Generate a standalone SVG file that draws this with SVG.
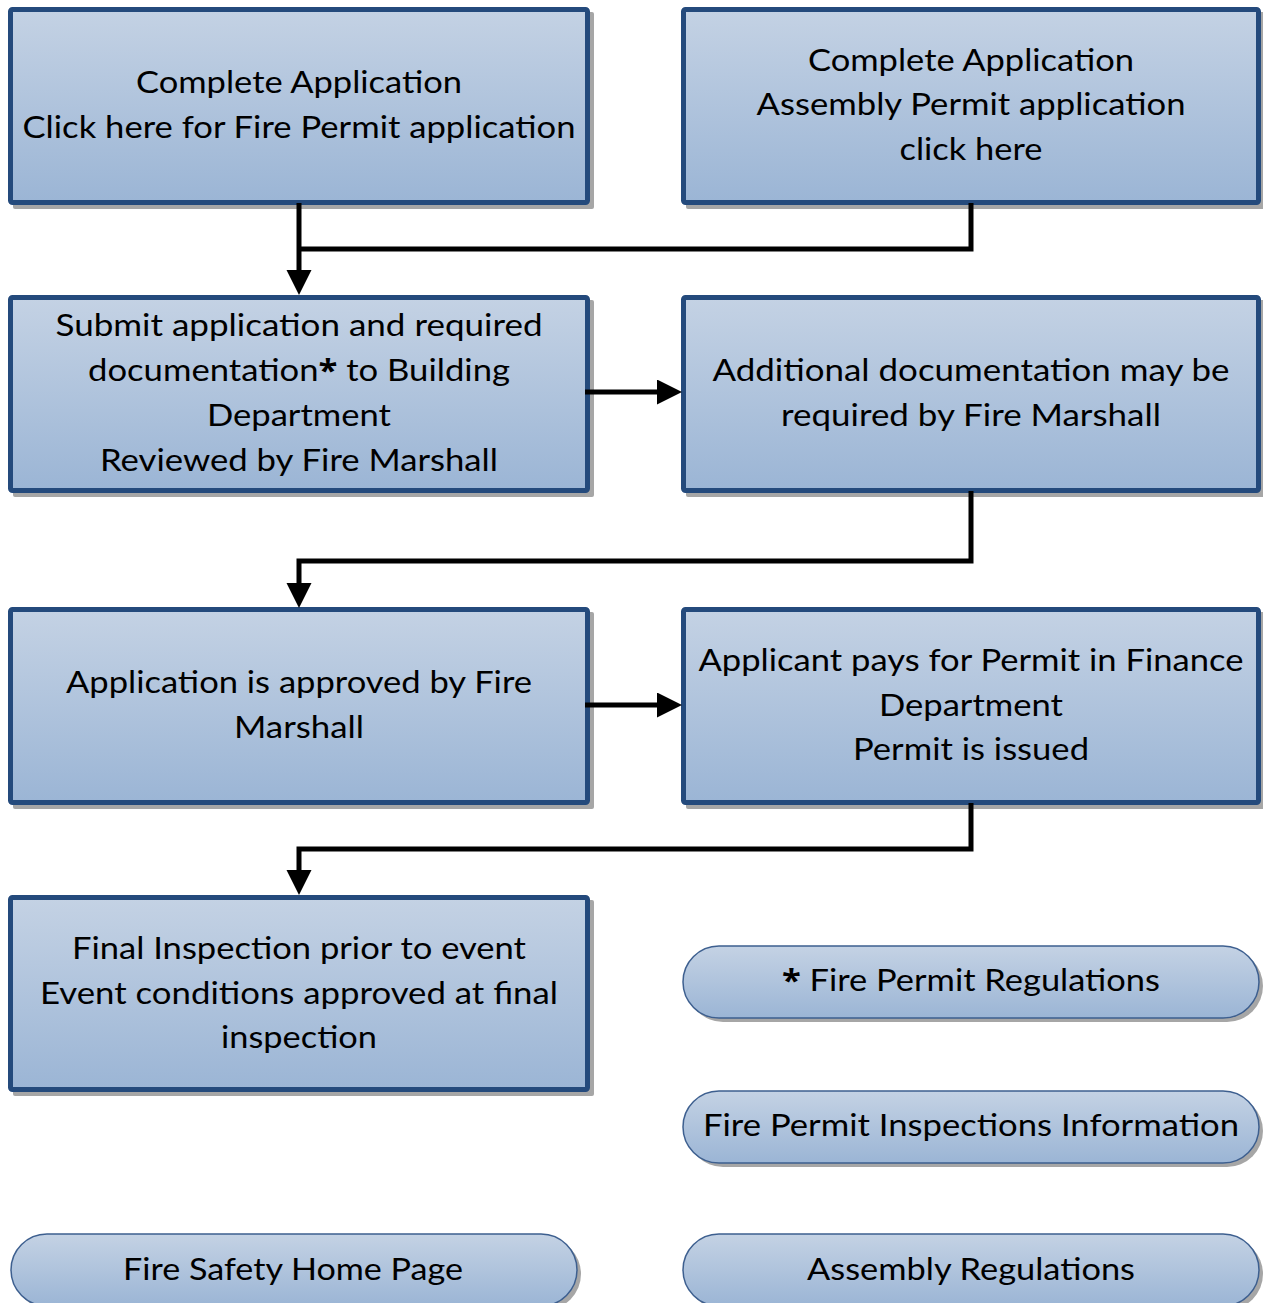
<svg xmlns="http://www.w3.org/2000/svg" width="1263" height="1303" viewBox="0 0 1263 1303">
<defs>
<linearGradient id="g" x1="0" y1="0" x2="0" y2="1">
<stop offset="0" stop-color="#C4D2E4"/>
<stop offset="1" stop-color="#9BB5D5"/>
</linearGradient>
<marker id="ah" markerUnits="userSpaceOnUse" markerWidth="26" markerHeight="26" refX="14" refY="12.5" orient="auto" viewBox="0 0 26 26">
<path d="M0,0 L25,12.5 L0,25 z" fill="#000"/>
</marker>
</defs>
<style>
.sh{fill:#A6A6A6}
.box{fill:url(#g);stroke:#244A7C;stroke-width:5}
.pill{fill:url(#g);stroke:#3D5F8F;stroke-width:1.5}
.t{font-family:Lato,"Open Sans",sans-serif;font-size:31px;fill:#000;text-anchor:middle}
.ast{font-family:"Open Sans",sans-serif;font-weight:bold}
.c{fill:none;stroke:#000;stroke-width:5;stroke-linejoin:miter}
</style>
<rect width="1263" height="1303" fill="#fff"/>

<g id="n1">
<rect class="sh" x="13" y="12" width="581" height="197" rx="2"/>
<rect class="box" x="10.5" y="9.5" width="577" height="193" rx="2"/>
<text class="t" x="299" y="93" textLength="326" lengthAdjust="spacingAndGlyphs">Complete Application</text>
<text class="t" x="299" y="138" textLength="553" lengthAdjust="spacingAndGlyphs">Click here for Fire Permit application</text>
</g>
<g id="n2">
<rect class="sh" x="686" y="12" width="579" height="197" rx="2"/>
<rect class="box" x="683.5" y="9.5" width="575" height="193" rx="2"/>
<text class="t" x="971" y="71" textLength="326" lengthAdjust="spacingAndGlyphs">Complete Application</text>
<text class="t" x="971" y="115" textLength="429" lengthAdjust="spacingAndGlyphs">Assembly Permit application</text>
<text class="t" x="971" y="160" textLength="143" lengthAdjust="spacingAndGlyphs">click here</text>
</g>
<g id="n3">
<rect class="sh" x="13" y="300" width="581" height="197" rx="2"/>
<rect class="box" x="10.5" y="297.5" width="577" height="193" rx="2"/>
<text class="t" x="299" y="336" textLength="487" lengthAdjust="spacingAndGlyphs">Submit application and required</text>
<text class="t" x="299" y="381" textLength="422" lengthAdjust="spacingAndGlyphs">documentation<tspan class="ast">*</tspan> to Building</text>
<text class="t" x="299" y="426" textLength="184" lengthAdjust="spacingAndGlyphs">Department</text>
<text class="t" x="299" y="471" textLength="398" lengthAdjust="spacingAndGlyphs">Reviewed by Fire Marshall</text>
</g>
<g id="n4">
<rect class="sh" x="686" y="300" width="579" height="197" rx="2"/>
<rect class="box" x="683.5" y="297.5" width="575" height="193" rx="2"/>
<text class="t" x="971" y="381" textLength="517" lengthAdjust="spacingAndGlyphs">Additional documentation may be</text>
<text class="t" x="971" y="426" textLength="380" lengthAdjust="spacingAndGlyphs">required by Fire Marshall</text>
</g>
<g id="n5">
<rect class="sh" x="13" y="612" width="581" height="197" rx="2"/>
<rect class="box" x="10.5" y="609.5" width="577" height="193" rx="2"/>
<text class="t" x="299" y="693" textLength="466" lengthAdjust="spacingAndGlyphs">Application is approved by Fire</text>
<text class="t" x="299" y="738" textLength="130" lengthAdjust="spacingAndGlyphs">Marshall</text>
</g>
<g id="n6">
<rect class="sh" x="686" y="612" width="579" height="197" rx="2"/>
<rect class="box" x="683.5" y="609.5" width="575" height="193" rx="2"/>
<text class="t" x="971" y="671" textLength="545" lengthAdjust="spacingAndGlyphs">Applicant pays for Permit in Finance</text>
<text class="t" x="971" y="716" textLength="184" lengthAdjust="spacingAndGlyphs">Department</text>
<text class="t" x="971" y="760" textLength="236" lengthAdjust="spacingAndGlyphs">Permit is issued</text>
</g>
<g id="n7">
<rect class="sh" x="13" y="900" width="581" height="196" rx="2"/>
<rect class="box" x="10.5" y="897.5" width="577" height="192" rx="2"/>
<text class="t" x="299" y="959" textLength="454" lengthAdjust="spacingAndGlyphs">Final Inspection prior to event</text>
<text class="t" x="299" y="1004" textLength="518" lengthAdjust="spacingAndGlyphs">Event conditions approved at final</text>
<text class="t" x="299" y="1048" textLength="156" lengthAdjust="spacingAndGlyphs">inspection</text>
</g>
<g id="p1">
<rect class="sh" x="687" y="950" width="576" height="72" rx="36"/>
<rect class="pill" x="683" y="946" width="576" height="72" rx="36"/>
<text class="t" x="971" y="991" textLength="378" lengthAdjust="spacingAndGlyphs"><tspan class="ast">*</tspan> Fire Permit Regulations</text>
</g>
<g id="p2">
<rect class="sh" x="687" y="1095" width="576" height="72" rx="36"/>
<rect class="pill" x="683" y="1091" width="576" height="72" rx="36"/>
<text class="t" x="971" y="1136" textLength="536" lengthAdjust="spacingAndGlyphs">Fire Permit Inspections Information</text>
</g>
<g id="p3">
<rect class="sh" x="687" y="1238" width="576" height="72" rx="36"/>
<rect class="pill" x="683" y="1234" width="576" height="72" rx="36"/>
<text class="t" x="971" y="1280" textLength="328" lengthAdjust="spacingAndGlyphs">Assembly Regulations</text>
</g>
<g id="p4">
<rect class="sh" x="15" y="1238" width="566" height="72" rx="36"/>
<rect class="pill" x="11" y="1234" width="566" height="72" rx="36"/>
<text class="t" x="293" y="1280" textLength="340" lengthAdjust="spacingAndGlyphs">Fire Safety Home Page</text>
</g>

<g id="connectors">
<path class="c" d="M299,203 V284" marker-end="url(#ah)"/>
<path class="c" d="M971,203 V249 H299"/>
<path class="c" d="M585,392 H671" marker-end="url(#ah)"/>
<path class="c" d="M971,491 V561 H299 V597" marker-end="url(#ah)"/>
<path class="c" d="M585,705 H671" marker-end="url(#ah)"/>
<path class="c" d="M971,803 V849 H299 V884" marker-end="url(#ah)"/>
</g>
</svg>
